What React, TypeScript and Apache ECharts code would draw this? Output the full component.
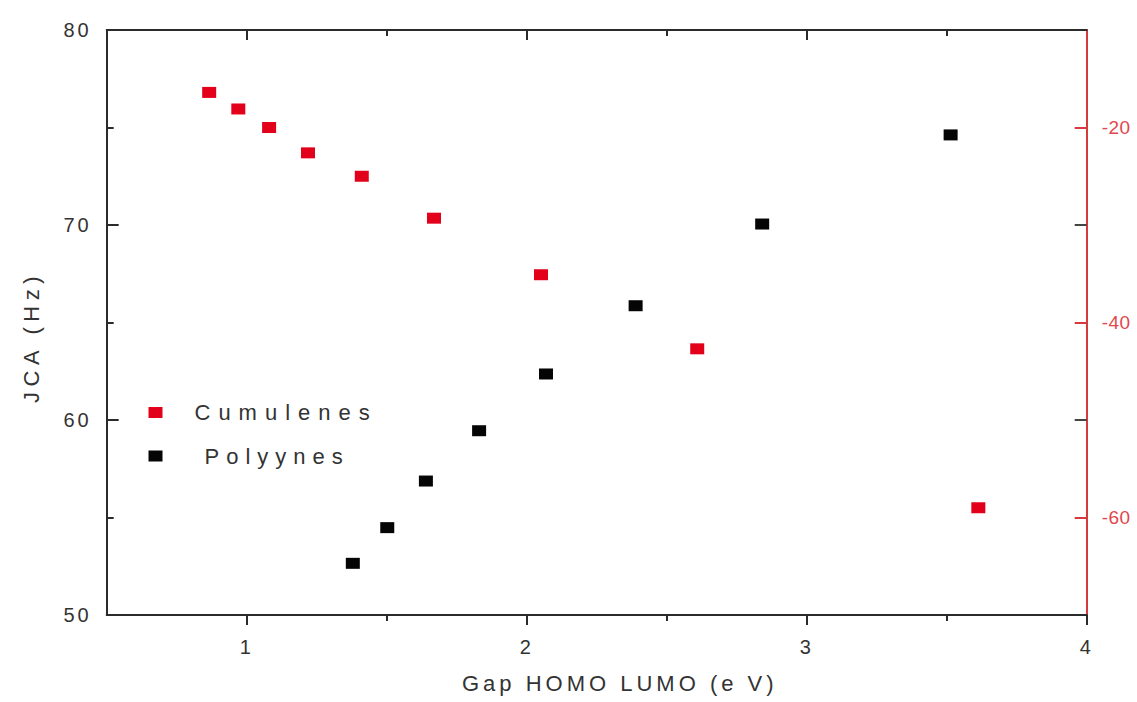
import React, { useEffect, useRef } from "react";
import * as echarts from "echarts";

// HOMO-LUMO gap (eV) and coupling constants for the two carbon-chain families
const cumuleneGap = [0.866, 0.97, 1.08, 1.219, 1.411, 1.669, 2.051, 2.609, 3.613];
const cumuleneJ = [-16.4, -18.1, -20.0, -22.6, -25.0, -29.3, -35.1, -42.7, -59.0];
const polyyneGap = [1.379, 1.502, 1.64, 1.83, 2.069, 2.389, 2.841, 3.514];
const polyyneJ = [52.65, 54.48, 56.87, 59.45, 62.36, 65.86, 70.05, 74.62];

const xMajorTicks = [1, 2, 3, 4];
const xMinorTicks = [1.5, 2.5, 3.5];
const rightLabels = [-20, -40, -60];
const rightOddTicks = [-30, -50];

const seriesNames = ["Cumulenes", "Polyynes"];
const xTitle = "Gap HOMO LUMO (e V)";
const yTitle = "JCA (Hz)";

const INK = "#2b2b2b";
const TEXT = "#333333";
const RED_AXIS = "#d8393f";
const RED_TEXT = "#e2474c";
const RED_MARK = "#e3001b";
const BLACK_MARK = "#050505";
const FONT = "Arial, 'Liberation Sans', sans-serif";

// extra tracking for the wide-set lettering
const spacingFor = (t: string): number => {
  if (t === seriesNames[0]) return 8;
  if (t === seriesNames[1]) return 7;
  if (t === xTitle) return 4;
  if (t === yTitle) return 5.5;
  if (t.startsWith("-")) return 0.5;
  return 3;
};

export default function App() {
  const ref = useRef<HTMLDivElement>(null);

  useEffect(() => {
    if (!ref.current) return;
    const chart = echarts.init(ref.current, undefined, { renderer: "svg" });

    const gridPos = { left: 106.7, right: 50.3, top: 30, bottom: 87 };
    const xBase = { type: "value" as const, min: 0.5, max: 4, splitLine: { show: false } };
    const tickStyle = { color: INK, width: 2 };

    chart.setOption({
      animation: false,
      backgroundColor: "#ffffff",
      grid: { ...gridPos, containLabel: false },
      legend: {
        orient: "vertical",
        left: 148.5,
        top: 400.5,
        padding: 0,
        itemWidth: 14,
        itemHeight: 11,
        itemGap: 19.5,
        icon: "rect",
        textStyle: { fontSize: 22, color: TEXT, fontFamily: FONT, lineHeight: 24 },
        data: [
          { name: seriesNames[0], textStyle: { padding: [0, 0, 0, 27] } },
          { name: seriesNames[1], textStyle: { padding: [0, 0, 0, 37] } },
        ],
      },
      xAxis: [
        {
          ...xBase,
          position: "bottom",
          axisLine: { show: true, onZero: false, lineStyle: { color: INK, width: 2 } },
          axisTick: { show: true, inside: false, length: 10, customValues: xMajorTicks, lineStyle: tickStyle },
          axisLabel: { customValues: xMajorTicks, margin: 22, fontSize: 20, color: TEXT, fontFamily: FONT },
        },
        {
          ...xBase,
          position: "bottom",
          axisLine: { show: false, onZero: false },
          axisTick: { show: true, inside: false, length: 6, customValues: xMinorTicks, lineStyle: tickStyle },
          axisLabel: { show: false },
        },
        {
          ...xBase,
          position: "top",
          axisLine: { show: true, onZero: false, lineStyle: { color: INK, width: 2 } },
          axisTick: { show: true, inside: true, length: 10, customValues: [1, 2, 3], lineStyle: tickStyle },
          axisLabel: { show: false },
        },
        {
          ...xBase,
          position: "top",
          axisLine: { show: false, onZero: false },
          axisTick: { show: true, inside: true, length: 6, customValues: xMinorTicks, lineStyle: tickStyle },
          axisLabel: { show: false },
        },
      ],
      yAxis: [
        {
          type: "value",
          position: "left",
          min: 50,
          max: 80,
          interval: 10,
          splitLine: { show: false },
          axisLine: { show: true, onZero: false, lineStyle: { color: INK, width: 2 } },
          axisTick: { show: true, inside: true, length: 12, customValues: [60, 70], lineStyle: tickStyle },
          minorTick: { show: true, splitNumber: 2, length: 7, lineStyle: { color: INK, width: 2 } },
          minorSplitLine: { show: false },
          axisLabel: { margin: 15, fontSize: 20, color: TEXT, fontFamily: FONT },
        },
        {
          type: "value",
          position: "right",
          min: -70,
          max: -10,
          interval: 10,
          splitLine: { show: false },
          axisLine: { show: true, onZero: false, lineStyle: { color: RED_AXIS, width: 2 } },
          axisTick: { show: true, inside: true, length: 12, customValues: rightLabels, lineStyle: { color: RED_AXIS, width: 2 } },
          axisLabel: { customValues: rightLabels, margin: 15, fontSize: 19, color: RED_TEXT, fontFamily: FONT },
        },
        {
          type: "value",
          position: "right",
          min: -70,
          max: -10,
          interval: 10,
          splitLine: { show: false },
          axisLine: { show: false, onZero: false },
          axisTick: { show: true, inside: true, length: 12, customValues: rightOddTicks, lineStyle: { color: "#444", width: 2 } },
          axisLabel: { show: false },
        },
      ],
      graphic: [
        {
          type: "text",
          x: 462,
          y: 683,
          style: { text: xTitle, fontSize: 22, fill: TEXT, fontFamily: FONT, textAlign: "left", textVerticalAlign: "middle" },
        },
        {
          type: "text",
          x: 31.5,
          y: 403,
          rotation: Math.PI / 2,
          style: { text: yTitle, fontSize: 22, fill: TEXT, fontFamily: FONT, textAlign: "left", textVerticalAlign: "middle" },
        },
      ],
      series: [
        {
          name: seriesNames[0],
          type: "scatter",
          xAxisIndex: 0,
          yAxisIndex: 1,
          symbol: "rect",
          symbolSize: [14, 11],
          itemStyle: { color: RED_MARK, opacity: 1 },
          data: cumuleneGap.map((g, i) => [g, cumuleneJ[i]]),
        },
        {
          name: seriesNames[1],
          type: "scatter",
          xAxisIndex: 0,
          yAxisIndex: 0,
          symbol: "rect",
          symbolSize: [14, 11],
          itemStyle: { color: BLACK_MARK, opacity: 1 },
          data: polyyneGap.map((g, i) => [g, polyyneJ[i]]),
        },
      ],
    });

    const track = () => {
      const root = ref.current;
      if (!root) return;
      root.querySelectorAll("text").forEach((el) => {
        const t = (el.textContent || "").trim();
        if (!t) return;
        el.setAttribute("letter-spacing", String(spacingFor(t)));
      });
    };
    chart.getZr().flush();
    track();
    chart.on("finished", track);

    return () => {
      chart.dispose();
    };
  }, []);

  return (
    <div
      ref={ref}
      style={{ position: "absolute", left: 0, top: 0, width: 1137, height: 702, background: "#fff" }}
    />
  );
}
